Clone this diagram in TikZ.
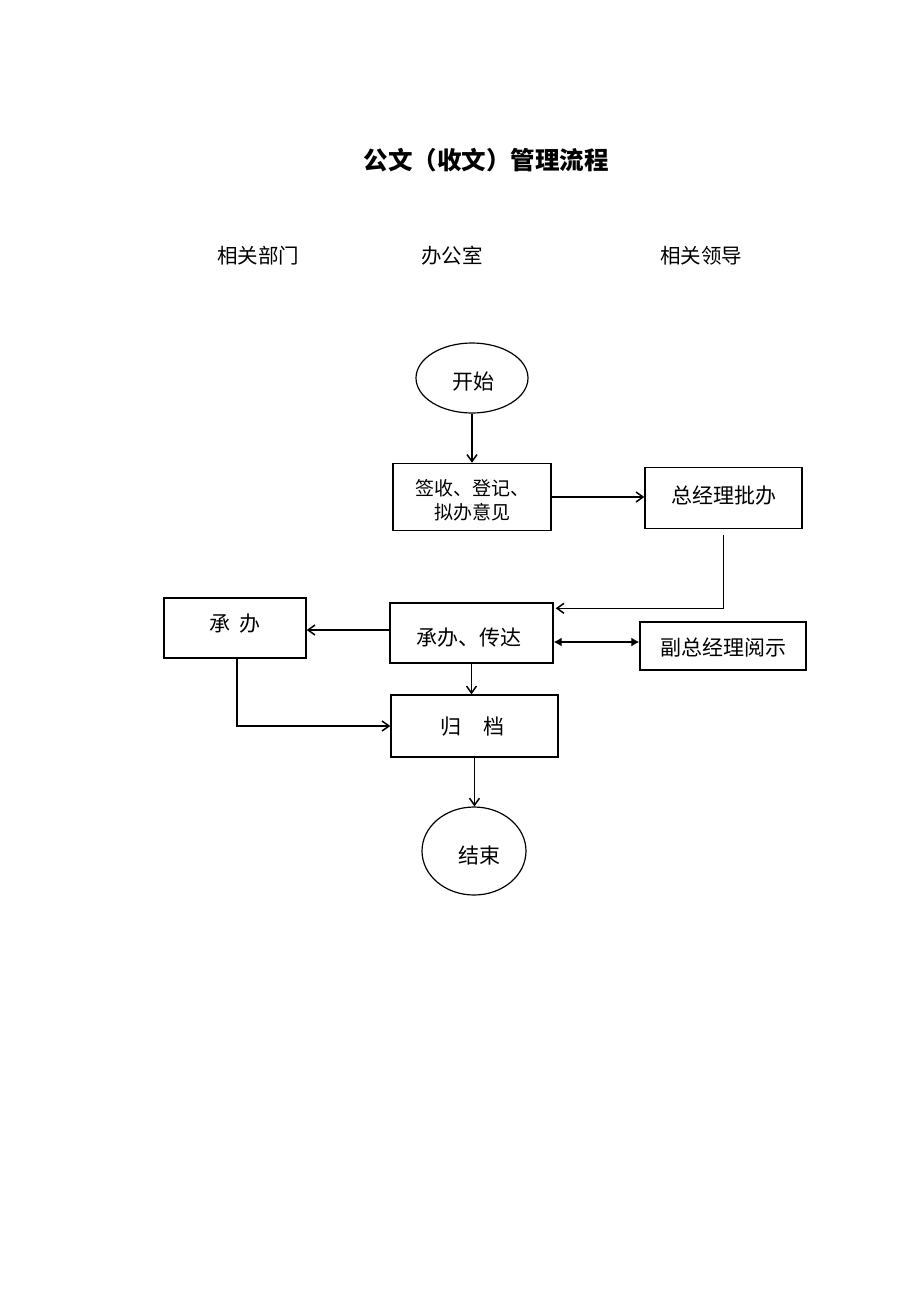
\documentclass[tikz,border=0pt]{standalone}
\usepackage{fontspec}
\newfontfamily\cjk{Noto Sans CJK SC}
\usetikzlibrary{arrows.meta,shapes.geometric,calc}
\begin{document}
\begin{tikzpicture}[x=1pt,y=-1pt,
  box/.style={draw,line width=1.4pt,rectangle,inner sep=0pt,text height=18.5pt,text depth=2.5pt,font=\cjk\fontsize{21}{24}\selectfont,align=center},
  oval/.style={draw,line width=1.2pt,ellipse,inner sep=0pt,text height=18.5pt,text depth=2.5pt,font=\cjk\fontsize{21}{24}\selectfont},
  conn/.style={line width=1.3pt},
  arr/.style={conn,-{Straight Barb[length=7pt,width=10pt,line width=1.5pt]}},
  darr/.style={conn,{Latex[length=8pt,width=9pt]}-{Latex[length=8pt,width=9pt]}},
  hdr/.style={font=\cjk\fontsize{20.5}{24}\selectfont}]
\useasboundingbox (0,0) rectangle (920,1302);
\fill[white] (0,0) rectangle (920,1302);

\node[font=\cjk\bfseries\fontsize{24.5}{28}\selectfont] (title) at (486,160) {公文（收文）管理流程};
\node[hdr] (h1) at (258,256) {相关部门};
\node[hdr] (h2) at (452,256) {办公室};
\node[hdr] (h3) at (701,256) {相关领导};

\node[oval,minimum width=112pt,minimum height=70pt] (start) at (472,378) {\hspace{3pt}\raisebox{-3pt}{开始}};
\node[box,minimum width=158pt,minimum height=67pt,text height=46pt,text depth=2pt,font=\cjk\fontsize{19}{24}\selectfont] (sign) at (472,497) {签收、登记、\\拟办意见};
\node[box,minimum width=157pt,minimum height=61pt] (gm) at (723.5,498) {\raisebox{3pt}{总经理批办}};
\node[box,minimum width=163pt,minimum height=60pt] (trans) at (471.5,633) {\hspace{-6pt}\raisebox{-4pt}{承办、传达}};
\node[box,minimum width=142pt,minimum height=60pt] (dept) at (235,628) {\raisebox{5pt}{承\hspace{9pt}办}};
\node[box,minimum width=166pt,minimum height=48pt] (vgm) at (723,646) {\raisebox{-1pt}{副总经理阅示}};
\node[box,minimum width=167pt,minimum height=62pt] (arch) at (474.5,726) {\hspace{-4pt}归\hspace{22pt}档};
\node[oval,minimum width=104pt,minimum height=88pt] (end) at (474,851) {\hspace{10pt}\raisebox{-4pt}{结束}};

\draw[arr] (start.south) -- (sign.north);
\draw[arr] (sign.east) -- (sign.east -| gm.west);
\coordinate (t1) at ($(trans.north east)+(2,6)$);
\draw[arr] ($(gm.south)+(0,6)$) |- (t1);
\coordinate (t2) at ($(trans.west)+(0,-3)$);
\draw[arr] (t2) -- (t2 -| dept.east);
\coordinate (t3) at ($(trans.east)+(0,9)$);
\draw[darr] (t3) -- (t3 -| vgm.west);
\draw[arr] (trans.south) -- (trans.south |- arch.north);
\draw[arr] ($(dept.south)+(2,0)$) |- (arch.west);
\draw[arr] (arch.south) -- (arch.south |- end.north);
\end{tikzpicture}
\end{document}
